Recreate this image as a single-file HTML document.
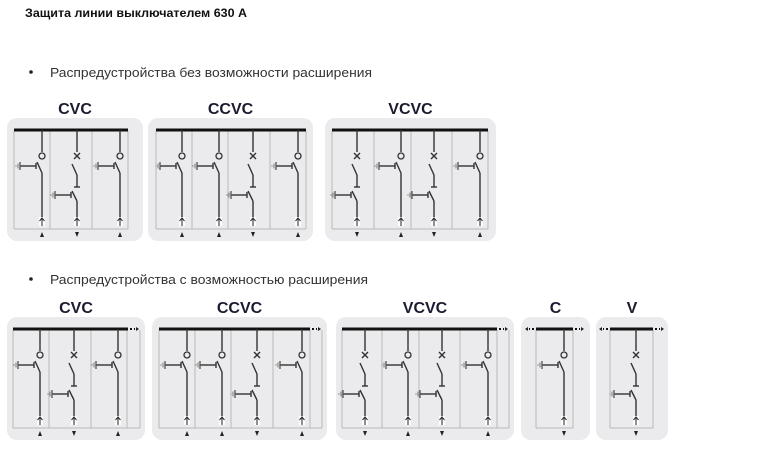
<!DOCTYPE html>
<html><head><meta charset="utf-8">
<style>
body{margin:0;background:#fff;width:762px;height:450px;overflow:hidden}
svg{display:block}
</style></head>
<body>
<svg id="s" width="762" height="450" xmlns="http://www.w3.org/2000/svg" font-family="Liberation Sans, DejaVu Sans, sans-serif">
<text x="25" y="17" font-size="12" font-weight="bold" fill="#111" textLength="222" lengthAdjust="spacingAndGlyphs">Защита линии выключателем 630 А</text>
<circle cx="31" cy="72" r="1.8" fill="#222"/>
<text x="50" y="77" font-size="13" fill="#333" textLength="322" lengthAdjust="spacingAndGlyphs">Распредустройства без возможности расширения</text>
<circle cx="31" cy="279" r="1.8" fill="#222"/>
<text x="50" y="284" font-size="13" fill="#333" textLength="318" lengthAdjust="spacingAndGlyphs">Распредустройства с возможностью расширения</text>
<g id="g"></g>
</svg>
<script>
var g=document.getElementById('g'),h='';
function L(x1,y1,x2,y2,c,w){h+='<line x1="'+x1+'" y1="'+y1+'" x2="'+x2+'" y2="'+y2+'" stroke="'+(c||'#333')+'" stroke-width="'+(w||1.4)+'"/>';}
function T(x,y,s){h+='<text x="'+x+'" y="'+y+'" font-size="16" font-weight="bold" fill="#1b1b2f" text-anchor="middle">'+s+'</text>';}
function earth(x,y){L(x-22,y,x-6,y);L(x-6,y-3,x-6,y+3);L(x-22,y-4,x-22,y+4,'#555',1.3);L(x-24,y-2.5,x-24,y+2.5,'#777',1);L(x-26,y-1,x-26,y+1,'#999',1);}
function cell(x,t,dy,dir){
 var o=dy;
 L(x,o+130,x,o+152);
 if(t=='C'){
  h+='<circle cx="'+x+'" cy="'+(o+156)+'" r="3" fill="none" stroke="#333" stroke-width="1.3"/>';
  L(x-5,o+162,x,o+173);L(x,o+173,x,o+217);earth(x,o+166);
 }else{
  L(x-3,o+153,x+3,o+159);L(x+3,o+153,x-3,o+159);
  L(x-5,o+164,x,o+175);L(x,o+175,x,o+187);L(x-3,o+187,x+3,o+187);
  L(x-5,o+191,x,o+201);L(x,o+201,x,o+217);earth(x,o+195);
 }
 h+='<rect x="'+(x-3)+'" y="'+(o+217)+'" width="6" height="9" fill="#fff"/>';
 h+='<path d="M'+(x-2.5)+' '+(o+221)+'L'+x+' '+(o+218)+'L'+(x+2.5)+' '+(o+221)+'M'+x+' '+(o+218)+'V'+(o+226)+'" fill="none" stroke="#333" stroke-width="1.1"/>';
 if(dir=='u')h+='<path d="M'+(x-2)+' '+(o+237)+'L'+x+' '+(o+232)+'L'+(x+2)+' '+(o+237)+'Z" fill="#222"/>';
 else h+='<path d="M'+(x-2)+' '+(o+232)+'L'+x+' '+(o+237)+'L'+(x+2)+' '+(o+232)+'Z" fill="#222"/>';
}
function box(x1,x2,dy,title,divs,busEnd,ext,extL){
 var o=dy;
 h+='<rect x="'+x1+'" y="'+(o+118)+'" width="'+(x2-x1)+'" height="123" rx="10" fill="#ebebed"/>';
 T((x1+x2)/2,o+114,title);
 var a=divs[0],b=divs[divs.length-1];
 for(var i=0;i<divs.length;i++)L(divs[i],o+131,divs[i],o+229,'#b8b8b8',1);
 L(a,o+229,b,o+229,'#b8b8b8',1);
 L(busEnd[0],o+130,busEnd[1],o+130,'#111',3);
 if(ext){L(busEnd[1]+2,o+130,busEnd[1]+4,o+130,'#111',2);L(busEnd[1]+6,o+130,busEnd[1]+7,o+130,'#111',2);h+='<path d="M'+(busEnd[1]+8)+' '+(o+128)+'L'+(busEnd[1]+11)+' '+(o+130)+'L'+(busEnd[1]+8)+' '+(o+132)+'Z" fill="#222"/>';}
 if(extL){L(busEnd[0]-2,o+130,busEnd[0]-4,o+130,'#111',2);L(busEnd[0]-6,o+130,busEnd[0]-7,o+130,'#111',2);h+='<path d="M'+(busEnd[0]-8)+' '+(o+128)+'L'+(busEnd[0]-11)+' '+(o+130)+'L'+(busEnd[0]-8)+' '+(o+132)+'Z" fill="#222"/>';}
}
box(7,143,0,'CVC',[14,50,92,128],[14,128]);
cell(42,'C',0,'u');cell(77,'V',0,'d');cell(120,'C',0,'u');
box(148,313,0,'CCVC',[156,192,228,270,306],[156,306]);
cell(182,'C',0,'u');cell(219,'C',0,'u');cell(253,'V',0,'d');cell(298,'C',0,'u');
box(325,496,0,'VCVC',[332,374,411,452,488],[332,488]);
cell(357,'V',0,'d');cell(401,'C',0,'u');cell(434,'V',0,'d');cell(480,'C',0,'u');
var d=199;
box(7,145,d,'CVC',[13,49,91,127,140],[13,128],1);
cell(40,'C',d,'u');cell(74,'V',d,'d');cell(118,'C',d,'u');
box(152,327,d,'CCVC',[159,195,231,273,310,322],[159,310],1);
cell(187,'C',d,'u');cell(222,'C',d,'u');cell(257,'V',d,'d');cell(302,'C',d,'u');
box(336,514,d,'VCVC',[342,382,419,460,497,509],[342,497],1);
cell(365,'V',d,'d');cell(408,'C',d,'u');cell(442,'V',d,'d');cell(488,'C',d,'u');
box(521,590,d,'C',[536,573],[536,573],1,1);
cell(564,'C',d,'d');
box(596,668,d,'V',[610,653],[610,653],1,1);
cell(636,'V',d,'d');
g.innerHTML=h;
</script>
</body></html>
